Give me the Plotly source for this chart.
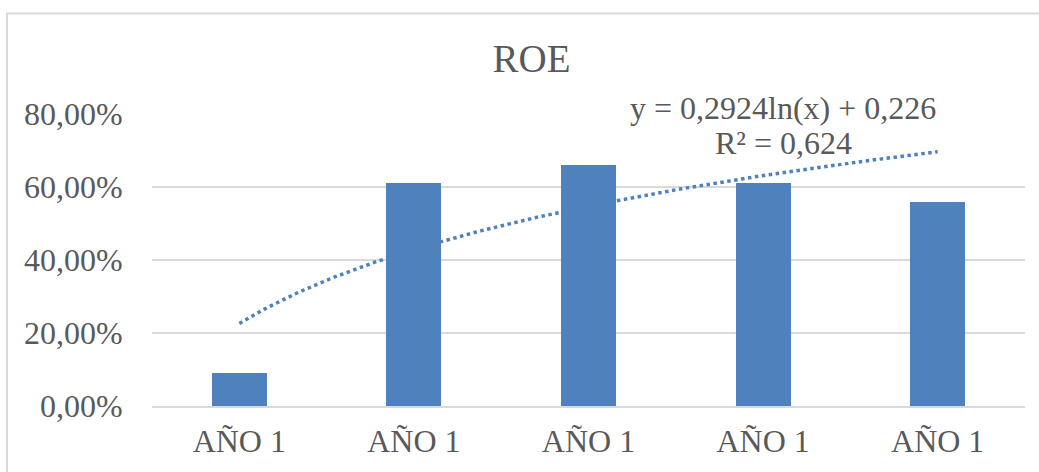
import numpy as np
import plotly.graph_objects as go

# ---- data ----
categories = ["AÑO 1", "AÑO 1", "AÑO 1", "AÑO 1", "AÑO 1"]
roe_values = [0.09, 0.61, 0.66, 0.61, 0.56]
y_tick_values = [0.0, 0.2, 0.4, 0.6, 0.8]
y_tick_labels = ["0,00%", "20,00%", "40,00%", "60,00%", "80,00%"]
title_text = "ROE"

# ---- logarithmic trend fit (as in the spreadsheet) ----
x_pos = np.arange(1, len(roe_values) + 1)
a, b = np.polyfit(np.log(x_pos), roe_values, 1)
pred = a * np.log(x_pos) + b
ss_res = np.sum((np.array(roe_values) - pred) ** 2)
ss_tot = np.sum((np.array(roe_values) - np.mean(roe_values)) ** 2)
r2 = 1 - ss_res / ss_tot
x_trend = np.linspace(1, len(roe_values), 200)
y_trend = a * np.log(x_trend) + b

def fmt(v, d):
    return f"{v:.{d}f}".rstrip("0").replace(".", ",")

eq_text = f"y = {fmt(a, 4)}ln(x) + {fmt(b, 3)}"
r2_text = f"R² = {fmt(r2, 3)}"

BLUE = "#4F81BD"
TEXT = "#595959"
GRID = "#D9D9D9"
FONT = "Liberation Serif"

fig = go.Figure()
fig.add_trace(go.Bar(
    x=x_pos, y=roe_values, width=0.315,
    marker=dict(color=BLUE, line=dict(width=0)),
    showlegend=False, hoverinfo="skip",
))
fig.add_trace(go.Scatter(
    x=x_trend, y=y_trend, mode="lines",
    line=dict(color=BLUE, width=3.5, dash="dot"),
    showlegend=False, hoverinfo="skip",
))

fig.update_layout(
    width=1039, height=472,
    margin=dict(l=152, r=14, t=114, b=66, autoexpand=False),
    paper_bgcolor="white", plot_bgcolor="white",
    font=dict(family=FONT, color=TEXT, size=32),
    bargap=0,
    title=dict(text=title_text, x=531.5 / 1039, xref="container", xanchor="center",
               y=1 - 58 / 472, yref="container", yanchor="middle",
               font=dict(family=FONT, size=39, color=TEXT)),
    xaxis=dict(
        range=[0.5, len(roe_values) + 0.5],
        tickmode="array", tickvals=list(x_pos), ticktext=categories,
        showgrid=False, zeroline=False, automargin=False,
        showline=True, linecolor=GRID, linewidth=2,
        ticks="outside", ticklen=6, tickcolor="rgba(0,0,0,0)",
        tickfont=dict(family=FONT, size=32, color=TEXT),
        fixedrange=True,
    ),
    yaxis=dict(
        range=[0, 0.8],
        tickmode="array", tickvals=y_tick_values, ticktext=y_tick_labels,
        showgrid=True, gridcolor=GRID, gridwidth=2,
        zeroline=False, showline=False, automargin=False,
        ticks="outside", ticklen=22, tickcolor="rgba(0,0,0,0)",
        tickfont=dict(family=FONT, size=32, color=TEXT),
        fixedrange=True,
    ),
    shapes=[dict(
        type="rect", xref="paper", yref="paper",
        x0=(7 - 152) / 873, x1=1.05, y0=-0.4, y1=(406 - 13.5) / 292,
        line=dict(color=GRID, width=2), fillcolor="rgba(0,0,0,0)", layer="below",
    )],
    annotations=[
        dict(text=eq_text, xref="paper", yref="paper",
             x=(783 - 152) / 873, y=(406 - 108) / 292,
             xanchor="center", yanchor="middle", showarrow=False,
             font=dict(family=FONT, size=32, color=TEXT)),
        dict(text=r2_text, xref="paper", yref="paper",
             x=(783 - 152) / 873, y=(406 - 143) / 292,
             xanchor="center", yanchor="middle", showarrow=False,
             font=dict(family=FONT, size=32, color=TEXT)),
    ],
)

fig.write_html(
    "out.html",
    config={"displayModeBar": False, "staticPlot": True},
    post_script="document.body.style.margin='0';document.body.style.overflow='hidden';",
)
